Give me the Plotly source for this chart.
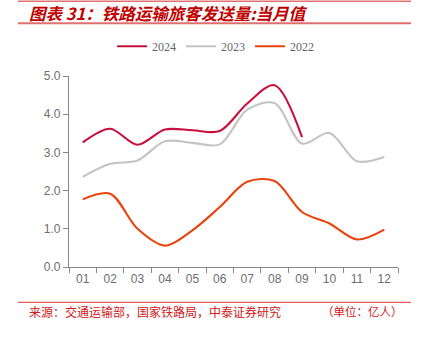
import plotly.graph_objects as go

months = ["01", "02", "03", "04", "05", "06", "07", "08", "09", "10", "11", "12"]
y2024 = [3.26, 3.62, 3.20, 3.60, 3.58, 3.56, 4.28, 4.76, 3.40]
y2023 = [2.36, 2.70, 2.79, 3.29, 3.25, 3.21, 4.12, 4.29, 3.23, 3.51, 2.77, 2.88]
y2022 = [1.77, 1.92, 1.00, 0.56, 0.96, 1.57, 2.23, 2.25, 1.44, 1.14, 0.72, 0.98]
y_ticks = [0, 1, 2, 3, 4, 5]
y_tick_labels = ["0.0", "1.0", "2.0", "3.0", "4.0", "5.0"]

title_text = "图表 31：铁路运输旅客发送量:当月值"
source_text = "来源：交通运输部，国家铁路局，中泰证券研究"
unit_text = "（单位：亿人）"

W, H = 425, 339
L, R, T, B = 69, 398, 75.7, 266.7

def px(x):
    return (x - L) / (R - L)

def py(y):
    return (B - y) / (B - T)

fig = go.Figure()
series = [("2024", y2024, "#C8103E"), ("2023", y2023, "#C4C4C4"), ("2022", y2022, "#E8440C")]
for name, vals, col in series:
    fig.add_trace(go.Scatter(
        x=months[:len(vals)], y=vals, name=name, mode="lines",
        line=dict(color=col, width=2.1, shape="spline", smoothing=0.9),
    ))

axis_font = dict(family="Liberation Sans, Arial", size=12, color="#6E6E6E")

fig.update_layout(
    width=W, height=H,
    margin=dict(l=L, r=W - R, t=T, b=H - B),
    paper_bgcolor="white", plot_bgcolor="white",
    showlegend=True,
    legend=dict(
        orientation="h", x=px(112), xanchor="left", y=py(46), yanchor="middle",
        font=dict(family="Liberation Serif, serif", size=12, color="#666666"),
        itemwidth=30, bgcolor="rgba(0,0,0,0)",
    ),
    xaxis=dict(
        type="category", categoryorder="array", categoryarray=months,
        range=[-0.5, 11.5], showline=True, linecolor="#888888", linewidth=1.2,
        ticks="outside", tickson="boundaries", ticklen=5, tickcolor="#888888",
        showgrid=False, tickfont=axis_font, zeroline=False,
    ),
    yaxis=dict(
        range=[0, 5], tickvals=y_ticks, ticktext=y_tick_labels,
        showline=True, linecolor="#888888", linewidth=1.2,
        ticks="outside", ticklen=5, tickcolor="#888888",
        showgrid=False, tickfont=axis_font, zeroline=False,
    ),
    shapes=[
        dict(type="line", xref="paper", yref="paper", x0=px(18), x1=px(411), y0=py(1), y1=py(1),
             line=dict(color="#E07070", width=1.5)),
        dict(type="line", xref="paper", yref="paper", x0=px(18), x1=px(411), y0=py(23), y1=py(23),
             line=dict(color="#E07070", width=2)),
        dict(type="line", xref="paper", yref="paper", x0=px(18), x1=px(411), y0=py(302), y1=py(302),
             line=dict(color="#E03030", width=1)),
    ],
    annotations=[
        dict(text="<b><i>" + title_text + "</i></b>", xref="paper", yref="paper",
             x=px(27), y=py(12.5), xanchor="left", yanchor="middle", showarrow=False,
             font=dict(family="Noto Sans CJK SC", size=16.5, color="#C00000")),
        dict(text=source_text, xref="paper", yref="paper",
             x=px(27), y=py(311), xanchor="left", yanchor="middle", showarrow=False,
             font=dict(family="Noto Sans CJK SC", size=12, color="#D02020")),
        dict(text=unit_text, xref="paper", yref="paper",
             x=px(405), y=py(311), xanchor="right", yanchor="middle", showarrow=False,
             font=dict(family="Noto Sans CJK SC", size=11.5, color="#D02020")),
    ],
)

fig.write_html("out.html")
